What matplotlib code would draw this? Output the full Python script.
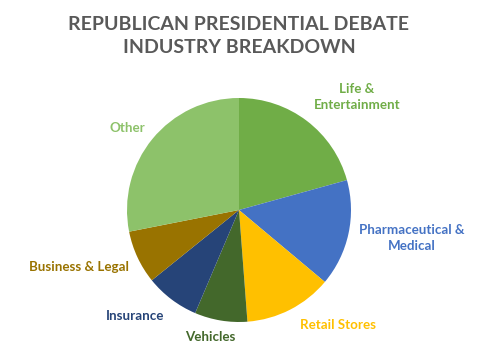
"""Republican presidential debate - industry breakdown pie."""

import matplotlib

matplotlib.use("Agg")
import matplotlib.pyplot as plt  # noqa: E402

# slice shares (%), clockwise from 12 o'clock
industries = [
    "Life &\nEntertainment",
    "Pharmaceutical &\nMedical",
    "Retail Stores",
    "Vehicles",
    "Insurance",
    "Business & Legal",
    "Other",
]
shares = [20.7, 15.4, 12.7, 7.6, 7.8, 7.7, 28.1]
colors = ["#70AD47", "#4472C4", "#FFC000", "#43682B", "#264478", "#997300", "#8DC26A"]

# label centres in pixels (x from left, y from top) of the 500x353 canvas
label_px = [(357, 97), (412, 238), (338, 325), (210, 337), (135, 316), (79, 267), (127, 128)]

W, H = 500, 353
plt.rcParams["font.family"] = ["Lato", "DejaVu Sans"]

fig = plt.figure(figsize=(W / 100, H / 100), dpi=100)
# pie: centre (239, 210) px, radius 112 px
cx, cy, r = 239, 210, 112
ax = fig.add_axes([(cx - r) / W, (H - cy - r) / H, 2 * r / W, 2 * r / H])
ax.pie(
    shares,
    colors=colors,
    startangle=90,
    counterclock=False,
    radius=1.0,
    wedgeprops={"linewidth": 0},
)
ax.set_xlim(-1, 1)
ax.set_ylim(-1, 1)
ax.set_aspect("auto")
ax.axis("off")

for name, (px, py), c in zip(industries, label_px, colors):
    fig.text(px / W, 1 - py / H, name, ha="center", va="center", color=c,
             fontsize=9.6, fontweight="bold", linespacing=1.45)

fig.text(239 / W, 1 - 36 / H, "REPUBLICAN PRESIDENTIAL DEBATE\nINDUSTRY BREAKDOWN",
         ha="center", va="center", color="#595959", fontsize=14,
         fontweight="bold", linespacing=1.45)

fig.savefig("out.png", dpi=100)
